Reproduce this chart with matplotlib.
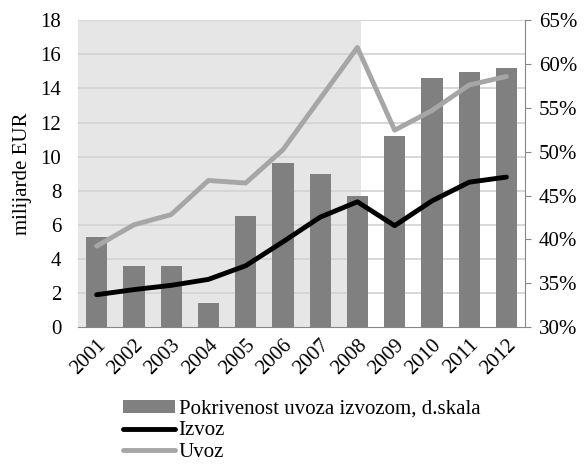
import matplotlib.pyplot as plt
from matplotlib.ticker import FuncFormatter

plt.rcParams['font.family'] = ['Liberation Serif', 'DejaVu Serif']

# data
years = ['2001', '2002', '2003', '2004', '2005', '2006',
         '2007', '2008', '2009', '2010', '2011', '2012']
pokrivenost = [40.3, 37.0, 37.0, 32.8, 42.7, 48.7, 47.5, 45.0, 51.8, 58.4, 59.1, 59.6]
izvoz = [1.9, 2.2, 2.45, 2.8, 3.6, 5.0, 6.45, 7.35, 5.95, 7.4, 8.5, 8.8]
uvoz = [4.75, 6.0, 6.6, 8.6, 8.45, 10.4, 13.4, 16.4, 11.55, 12.7, 14.2, 14.7]
left_ticks = list(range(0, 19, 2))
right_ticks = list(range(30, 66, 5))

x = list(range(len(years)))
fs = 15

fig = plt.figure(figsize=(5.84, 4.70), dpi=100)
ax = fig.add_axes([0.1336, 0.304, 0.7654, 0.653])
ax2 = ax.twinx()

# bars on right axis behind, lines on left axis in front
ax2.set_zorder(0)
ax.set_zorder(1)
ax.patch.set_visible(False)

# shaded period background
ax2.axvspan(-0.5, 7.1, color='#e6e6e6', zorder=0, lw=0)
# gridlines follow the left axis ticks
for v in left_ticks[1:]:
    ax2.axhline(30 + v * 35 / 18, color='#d4d4d4', lw=1.3, zorder=1)
bars = ax2.bar(x, [p - 30 for p in pokrivenost], bottom=30, width=0.57,
               color='#808080', zorder=2, label='Pokrivenost uvoza izvozom, d.skala')

l1, = ax.plot(x, izvoz, color='black', lw=3.5, solid_capstyle='round', label='Izvoz')
l2, = ax.plot(x, uvoz, color='#a6a6a6', lw=3.5, solid_capstyle='round', label='Uvoz')

ax.set_xlim(-0.5, 11.5)
ax.set_ylim(0, 18)
ax.set_yticks(left_ticks)
ax2.set_ylim(30, 65)
ax2.set_yticks(right_ticks)
ax2.yaxis.set_major_formatter(FuncFormatter(lambda v, p: '%d%%' % v))

ax.set_xticks(x)
ax.set_xticklabels(years, rotation=45, ha='right', rotation_mode='anchor')

for a in (ax, ax2):
    for s in ('top', 'left', 'right', 'bottom'):
        a.spines[s].set_visible(False)
ax2.spines['right'].set_visible(True)
ax2.spines['right'].set_color('#868686')
ax2.spines['bottom'].set_visible(True)
ax2.spines['bottom'].set_color('#868686')

ax.tick_params(axis='y', length=0, labelsize=fs, pad=12)
ax.tick_params(axis='x', length=0, labelsize=fs, pad=6)
ax2.tick_params(axis='y', length=4, color='#868686', labelsize=fs, pad=6)

ax.set_ylabel('milijarde EUR', fontsize=fs, labelpad=6)

fig.legend(handles=[bars, l1, l2], loc='upper left', bbox_to_anchor=(0.197, 0.167),
           frameon=False, fontsize=fs, handlelength=2.5, handleheight=0.55,
           handletextpad=0.15, labelspacing=0.12, borderaxespad=0)

plt.savefig('out.png', dpi=100)
plt.close()
